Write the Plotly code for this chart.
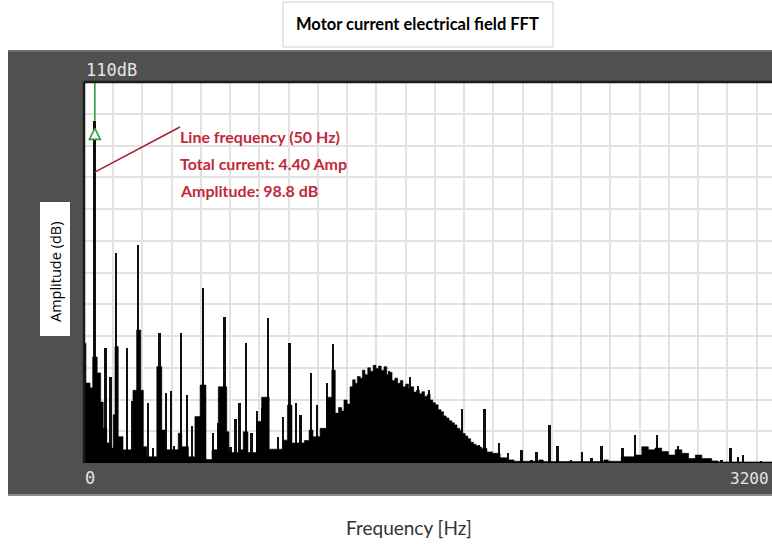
import plotly.graph_objects as go

# ---------------- data ----------------
# Broadband floor of the spectrum: step breakpoints (Hz, dB)
floor_hz = [0, 9, 28, 40, 61, 77, 89, 105, 120, 135, 143, 158, 180, 226, 243, 262, 274, 290,
            336, 359, 374, 435, 451, 482, 512, 536, 563, 591, 620, 659, 669, 720, 735, 757,
            797, 820, 855, 919, 939, 960, 1017, 1039, 1057, 1090, 1120, 1144, 1160, 1175,
            1190, 1200, 1215, 1228, 1240, 1252, 1262, 1275, 1285, 1297, 1310, 1322, 1335,
            1348, 1360, 1372, 1385, 1398, 1410, 1422, 1435, 1448, 1460, 1472, 1485, 1498,
            1510, 1522, 1535, 1548, 1560, 1572, 1585, 1598, 1610, 1622, 1635, 1648, 1660,
            1672, 1685, 1698, 1710, 1722, 1735, 1748, 1760, 1772, 1785, 1798, 1810, 1822,
            1835, 1860, 1885, 1921, 1952, 1985, 2100, 2120, 2400, 2420, 2480, 2544, 2575,
            2605, 2636, 2667, 2698, 2729, 2760, 2791, 2822, 2852, 2898, 2928, 3176]
floor_db = [34.6, 23.1, 21.7, 30.6, 26.0, 17.6, 10.1, 5.8, 4.3, 13.9, 33.6, 7.6, 3.8, 21.0, 38.4, 21.0, 4.7, 1.8,
            27.8, 9.5, 3.8, 8.6, 4.7, 1.8, 13.4, 22.5, 1.0, 3.8, 22.0, 9.0, 3.0, 3.8, 9.0, 3.0,
            12.0, 19.0, 4.0, 6.6, 16.7, 5.8, 6.5, 9.5, 7.6, 10.0, 19.0, 26.8, 14.4, 16.0,
            15.0, 18.2, 17.0, 22.0, 24.0, 23.0, 25.0, 24.5, 26.8, 25.5, 27.5, 26.5, 28.2,
            27.3, 28.0, 26.8, 27.8, 25.5, 26.2, 23.8, 24.5, 23.0, 23.8, 22.0, 22.8, 21.5,
            22.0, 20.5, 21.0, 20.0, 20.6, 19.3, 19.8, 18.2, 17.4, 16.8, 15.4, 14.8, 13.6,
            13.0, 12.2, 11.6, 11.0, 10.0, 9.4, 8.5, 7.8, 7.0, 6.0, 5.4, 5.0, 4.6,
            4.2, 3.2, 2.8, 1.5, 0.9, 0.5, 0.9, 0.4, 0.9, 0.5, 1.8, 2.3, 4.7,
            3.8, 4.3, 3.3, 2.3, 3.8, 2.8, 1.3, 2.3, 1.3, 0.6, 0.3, 0.3]

# Discrete spectral lines (Hz, dB)
spike_hz = [50, 100, 123, 150, 200, 222, 250, 297, 320, 350, 379, 402, 417, 450, 477, 500, 522,
            550, 597, 620, 636, 650, 677, 700, 718, 750, 774, 800, 823, 850, 897, 920, 950,
            980, 1000, 1050, 1077, 1122, 1150, 1408, 1505, 1544, 1593, 1745, 1824, 1850, 1916,
            1959, 2021, 2067, 2090, 2151, 2187, 2248, 2300, 2344, 2390, 2488, 2545, 2647,
            2744, 2945, 2986, 3021, 3044, 3126]
spike_db = [98.8, 33.2, 24.9, 60.6, 33.2, 17.9, 62.9, 17.4, 4.3, 37.6, 20.3, 20.8, 4.9, 37.6, 19.6, 10.8, 13.1,
            50.6, 8.6, 11.5, 22.0, 42.2, 4.7, 12.6, 17.3, 34.7, 8.6, 15.0, 16.0, 41.8, 7.4, 13.2, 34.7,
            17.2, 13.9, 26.0, 16.7, 23.0, 34.3, 26.5, 24.9, 22.2, 21.0, 15.5, 5.2, 15.6, 5.7,
            2.9, 3.8, 1.0, 3.3, 11.0, 5.0, 0.9, 3.3, 1.5, 5.0, 4.4, 8.1, 8.1,
            5.0, 1.0, 4.4, 1.8, 2.3, 0.6]

line_freq = 50          # Hz
line_amp = 98.8         # dB
y_top = 110             # dB (top of scale)
x_max_label = "3200"
callout_lines = ["Line frequency (50 Hz)", "Total current: 4.40 Amp", "Amplitude: 98.8 dB"]

# ---------------- layout helpers (pixel -> paper) ----------------
W_FIG, H_FIG = 772, 544
L, R_EDGE, T, B = 84, 772, 82, 463
PW, PH = R_EDGE - L, B - T


def PX(px):
    return (px - L) / PW


def PY(py):
    return (B - py) / PH


GRAY = "#505050"
GREEN = "#2e9e3e"
RED = "#c2283a"

fig = go.Figure()

fig.add_trace(go.Scatter(
    x=floor_hz, y=floor_db, mode="lines",
    line=dict(shape="hv", width=0.6, color="black"),
    fill="tozeroy", fillcolor="black", hoverinfo="skip", showlegend=False))

fig.add_trace(go.Bar(
    x=spike_hz, y=spike_db, width=9,
    marker=dict(color="#101010", line=dict(width=0)), showlegend=False))

fig.add_trace(go.Scatter(
    x=[line_freq, line_freq], y=[line_amp, y_top], mode="lines",
    line=dict(color=GREEN, width=1.6), showlegend=False, hoverinfo="skip"))

fig.add_trace(go.Scatter(
    x=[line_freq], y=[line_amp - 2.2], mode="markers",
    marker=dict(symbol="arrow-up", size=11, color="white",
                line=dict(color=GREEN, width=1.6)),
    showlegend=False, hoverinfo="skip"))

shapes = [
    # white areas around the dark frame
    dict(type="rect", xref="paper", yref="paper", x0=PX(0), x1=PX(W_FIG + 5),
         y0=PY(50), y1=PY(-5), fillcolor="white", line=dict(width=0), layer="below"),
    dict(type="rect", xref="paper", yref="paper", x0=PX(0), x1=PX(W_FIG + 5),
         y0=PY(W_FIG), y1=PY(496), fillcolor="white", line=dict(width=0), layer="below"),
    dict(type="rect", xref="paper", yref="paper", x0=PX(-5), x1=PX(8),
         y0=PY(W_FIG), y1=PY(-5), fillcolor="white", line=dict(width=0), layer="below"),
    # frame shading lines
    dict(type="line", xref="paper", yref="paper", x0=PX(8), x1=PX(W_FIG + 5),
         y0=PY(495), y1=PY(495), line=dict(color="#8c8c8c", width=2)),
    dict(type="line", xref="paper", yref="paper", x0=PX(8), x1=PX(W_FIG + 5),
         y0=PY(51), y1=PY(51), line=dict(color="#777777", width=1.5)),
    # title box
    dict(type="rect", xref="paper", yref="paper", x0=PX(283), x1=PX(553),
         y0=PY(47), y1=PY(2), fillcolor="white", line=dict(color="#cfcfcf", width=1)),
    # y-label box
    dict(type="rect", xref="paper", yref="paper", x0=PX(40), x1=PX(70),
         y0=PY(336), y1=PY(202), fillcolor="white", line=dict(width=0)),
    # plot border (top and left)
    dict(type="line", xref="paper", yref="paper", x0=0, x1=1, y0=1, y1=1,
         line=dict(color="#1a1a1a", width=2.5)),
    dict(type="line", xref="paper", yref="paper", x0=0, x1=0, y0=0, y1=1,
         line=dict(color="#1a1a1a", width=2.5)),
    # callout line
    dict(type="line", xref="x", yref="y", x0=443, y0=97, x1=line_freq, y1=84,
         line=dict(color="#a3202e", width=1.5)),
]

annotations = [
    dict(text="<b>Motor current electrical field FFT</b>", xref="paper", yref="paper",
         x=PX(417), y=PY(24), xanchor="center", yanchor="middle", showarrow=False,
         font=dict(family="Lato", size=16.5, color="black")),
    dict(text=f"{y_top}dB", xref="paper", yref="paper", x=PX(84), y=PY(70),
         xanchor="left", yanchor="middle", showarrow=False,
         font=dict(family="DejaVu Sans Mono", size=17, color="#e4e4e4")),
    dict(text="0", xref="paper", yref="paper", x=PX(83), y=PY(478),
         xanchor="left", yanchor="middle", showarrow=False,
         font=dict(family="DejaVu Sans Mono", size=17, color="#e4e4e4")),
    dict(text=x_max_label, xref="paper", yref="paper", x=PX(771), y=PY(478),
         xanchor="right", yanchor="middle", showarrow=False,
         font=dict(family="DejaVu Sans Mono", size=16, color="#e4e4e4")),
    dict(text="Amplitude (dB)", xref="paper", yref="paper", x=PX(55), y=PY(272),
         xanchor="center", yanchor="middle", textangle=-90, showarrow=False,
         font=dict(family="Open Sans", size=14.5, color="black")),
    dict(text="Frequency [Hz]", xref="paper", yref="paper", x=PX(409), y=PY(527),
         xanchor="center", yanchor="middle", showarrow=False,
         font=dict(family="Lato", size=19, color="#333333")),
]
for i, t in enumerate(callout_lines):
    annotations.append(dict(
        text=f"<b>{t}</b>", xref="paper", yref="paper", x=PX(178), y=PY(136 + 27 * i),
        xanchor="left", yanchor="middle", showarrow=False,
        font=dict(family="Lato", size=16, color=RED)))

fig.update_layout(
    width=W_FIG, height=H_FIG,
    margin=dict(l=L, r=W_FIG - R_EDGE, t=T, b=H_FIG - B, pad=0),
    paper_bgcolor=GRAY, plot_bgcolor="white",
    barmode="overlay", bargap=0, showlegend=False,
    xaxis=dict(range=[0, 3176], tick0=0, dtick=135, showticklabels=False, ticks="",
               showgrid=True, gridcolor="#e2e2e2", gridwidth=1.6, zeroline=False,
               showline=False, fixedrange=True),
    yaxis=dict(range=[0, y_top], tick0=0, dtick=y_top / 12, showticklabels=False, ticks="",
               showgrid=True, gridcolor="#e2e2e2", gridwidth=1.6, zeroline=False,
               showline=False, fixedrange=True),
    shapes=shapes, annotations=annotations,
)

fig.write_html("out.html", config={"displayModeBar": False})
